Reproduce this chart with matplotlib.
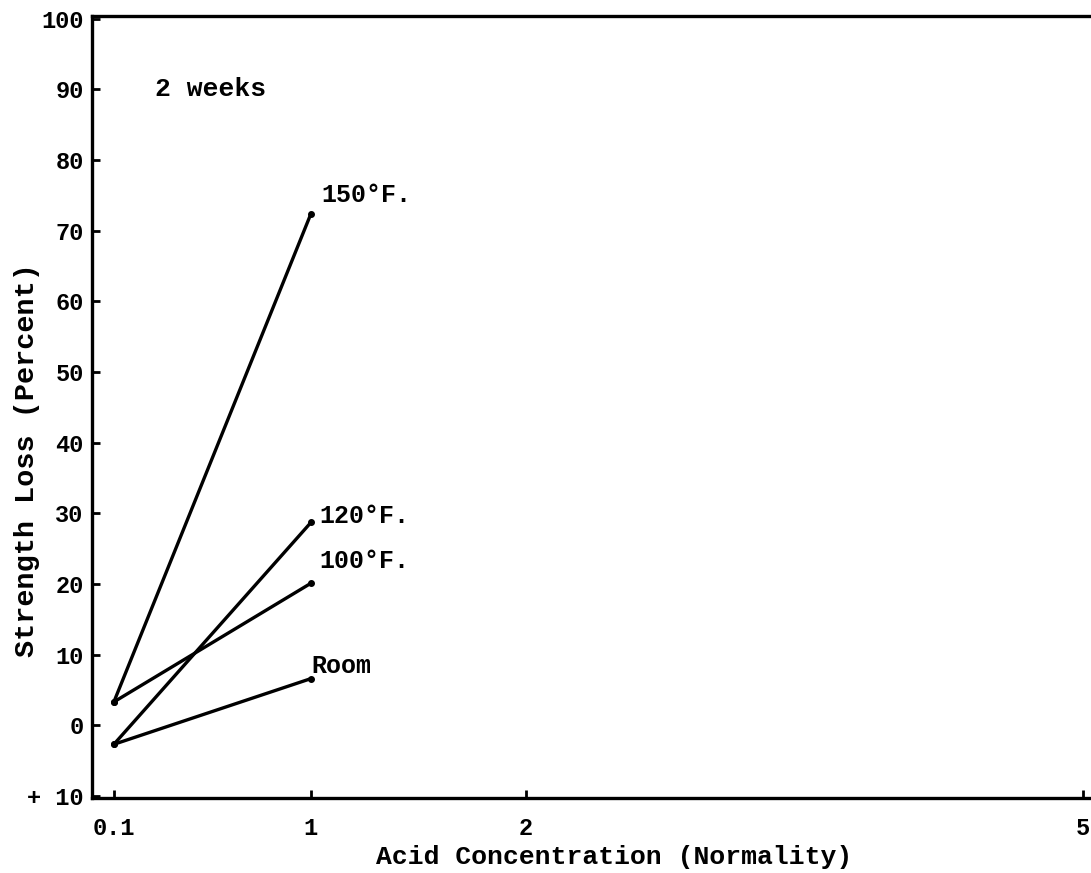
import numpy as np
import matplotlib
matplotlib.use("Agg")
from matplotlib import pyplot as plt

# acid concentration (normality) at the two ends of every line
conc = [0.1, 1]
room = [-2.7, 6.6]
f100 = [3.3, 20.1]
f120 = [-2.7, 28.7]
f150 = [3.3, 72.4]
series = [("150°F.", f150), ("120°F.", f120), ("100°F.", f100), ("Room", room)]

xticks = [0.1, 1, 2, 5]
yticks = [0, 10, 20, 30, 40, 50, 60, 70, 80, 90, 100]

# the paper axis is hand drawn: ticks are not evenly spaced
xs = [0.0, 0.1, 1, 2, 5, 5.5]
ps = [-0.111, 0.0, 1.0, 2.09, 4.92, 5.2]
def fwd(x):
    return np.interp(x, xs, ps)
def inv(p):
    return np.interp(p, ps, xs)

plt.rcParams['font.family'] = ['Liberation Mono', 'DejaVu Sans Mono']
plt.rcParams['font.weight'] = 'bold'
fig = plt.figure(figsize=(10.91, 8.73), dpi=100)
ax = fig.add_axes([92/1091, 1-798/873, 1-92/1091, (798-16)/873])
ax.set_xscale('function', functions=(fwd, inv))
ax.set_xlim(0, 5.07)
ax.set_ylim(-10.3, 100.4)

for name, vals in series:
    ax.plot(conc, vals, color='black', lw=2.4, marker='o', ms=4)

ax.text(1.05, 72.4 + 2.6, "150°F.", fontsize=18, va='center', ha='left')
ax.text(1.04, 28.7 + 0.9, "120°F.", fontsize=18, va='center', ha='left')
ax.text(1.04, 23.3, "100°F.", fontsize=18, va='center', ha='left')
ax.text(1.0, 8.4, "Room", fontsize=18, va='center', ha='left')
ax.text(0.29, 90.0, "2 weeks", fontsize=19, va='center', ha='left')

ax.set_xticks(xticks)
ax.set_xticklabels(["0.1", "1", "2", "5"])
ax.set_yticks(yticks + [-10])
ax.set_yticklabels([str(v) for v in yticks] + ["+ 10"])
ax.tick_params(axis='both', direction='in', length=6, width=2, labelsize=17)
ax.tick_params(axis='y', pad=6)
ax.tick_params(axis='x', pad=14)
for s in ['left', 'bottom', 'top']:
    ax.spines[s].set_linewidth(2.4)
ax.spines['right'].set_visible(False)

fig.text(614/1091, 1-857/873, "Acid Concentration (Normality)", fontsize=19,
         ha='center', va='center')
fig.text(27/1091, 1-460/873, "Strength Loss (Percent)", fontsize=20.5,
         ha='center', va='center', rotation=90)

fig.savefig("out.png", dpi=100)
